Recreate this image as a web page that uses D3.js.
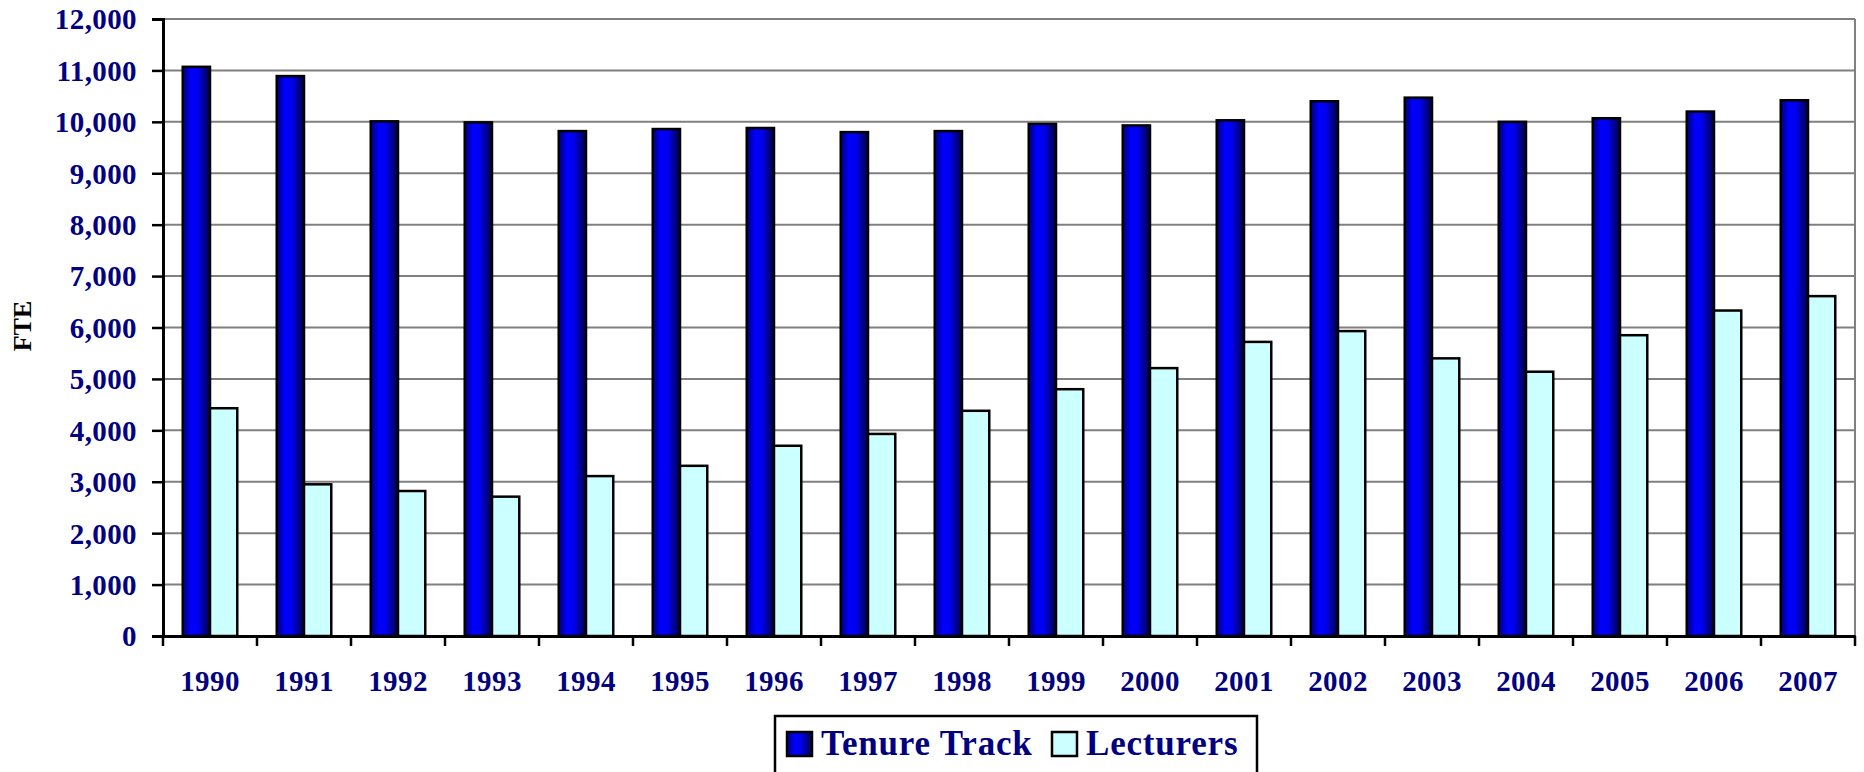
<!DOCTYPE html>
<html>
<head>
<meta charset="utf-8">
<script src="https://cdn.jsdelivr.net/npm/d3@7"></script>
<style>
  html, body { margin: 0; padding: 0; background: #fff; }
  text { font-family: "Liberation Serif", "Times New Roman", serif; font-weight: bold; }
</style>
</head>
<body>
<div id="chart"></div>
<script>
// Data
const years = ["1990", "1991", "1992", "1993", "1994", "1995", "1996", "1997", "1998",
  "1999", "2000", "2001", "2002", "2003", "2004", "2005", "2006", "2007"];
const tenureTrack = [11070, 10890, 10010, 9990, 9820, 9860, 9880, 9800, 9820,
  9960, 9930, 10030, 10400, 10470, 10000, 10070, 10200, 10420];
const lecturers = [4430, 2950, 2820, 2710, 3110, 3310, 3700, 3930, 4380,
  4800, 5210, 5720, 5930, 5400, 5140, 5850, 6330, 6610];
const seriesNames = ["Tenure Track", "Lecturers"];
const yTicks = [0, 1000, 2000, 3000, 4000, 5000, 6000, 7000, 8000, 9000, 10000, 11000, 12000];

const width = 1864;
const height = 772;
const margin = { top: 19, right: 9, bottom: 136, left: 163 };
const navy = "#000080";

const svg = d3.select("#chart")
  .append("svg")
  .attr("width", width)
  .attr("height", height)
  .attr("viewBox", [0, 0, width, height]);

// Gradient for the tenure track bars
const grad = svg.append("defs").append("linearGradient")
  .attr("id", "blueGrad")
  .attr("x1", "0%").attr("x2", "100%").attr("y1", "0%").attr("y2", "0%");
grad.append("stop").attr("offset", "0%").attr("stop-color", "#000070");
grad.append("stop").attr("offset", "30%").attr("stop-color", "#0000ff");
grad.append("stop").attr("offset", "55%").attr("stop-color", "#0000f0");
grad.append("stop").attr("offset", "100%").attr("stop-color", "#000040");

const x = d3.scaleBand()
  .domain(years)
  .range([margin.left, width - margin.right]);

const y = d3.scaleLinear()
  .domain([0, 12000])
  .range([height - margin.bottom, margin.top]);

const barW = x.bandwidth() * 0.29;
const groupOffset = x.bandwidth() * 0.21;

// Gridlines
svg.append("g")
  .selectAll("line")
  .data(yTicks.filter(d => d > 0))
  .join("line")
  .attr("x1", margin.left)
  .attr("x2", width - margin.right)
  .attr("y1", d => y(d))
  .attr("y2", d => y(d))
  .attr("stroke", "#808080")
  .attr("stroke-width", 2);

// Right border of plot area
svg.append("line")
  .attr("x1", width - margin.right).attr("x2", width - margin.right)
  .attr("y1", margin.top).attr("y2", y(0))
  .attr("stroke", "#808080")
  .attr("stroke-width", 2);

// Bars
const groups = svg.append("g")
  .selectAll("g")
  .data(years)
  .join("g")
  .attr("transform", d => `translate(${x(d) + groupOffset},0)`);

groups.append("rect")
  .attr("x", 0)
  .attr("width", barW)
  .attr("y", (d, i) => y(tenureTrack[i]))
  .attr("height", (d, i) => y(0) - y(tenureTrack[i]))
  .attr("fill", "url(#blueGrad)")
  .attr("stroke", "#000")
  .attr("stroke-width", 2.5);

groups.append("rect")
  .attr("x", barW)
  .attr("width", barW)
  .attr("y", (d, i) => y(lecturers[i]))
  .attr("height", (d, i) => y(0) - y(lecturers[i]))
  .attr("fill", "#ccffff")
  .attr("stroke", "#000")
  .attr("stroke-width", 2.5);

// Y axis
const yAxis = svg.append("g")
  .attr("transform", `translate(${margin.left},0)`)
  .call(d3.axisLeft(y).tickValues(yTicks).tickFormat(d3.format(",")).tickSize(11).tickPadding(15));
yAxis.select(".domain").attr("stroke", "#000").attr("stroke-width", 3);
yAxis.selectAll(".tick line").attr("stroke", "#000").attr("stroke-width", 2.5);
yAxis.selectAll(".tick text")
  .attr("fill", navy)
  .attr("font-size", 29)
  .attr("font-family", "Liberation Serif, serif")
  .attr("font-weight", "bold")
  .attr("letter-spacing", 0.4)
  .attr("dy", "0.34em");

// X axis
const xAxis = svg.append("g")
  .attr("transform", `translate(0,${y(0)})`)
  .call(d3.axisBottom(x).tickSize(0).tickPadding(34));
xAxis.select(".domain").attr("stroke", "#000").attr("stroke-width", 3);
xAxis.selectAll(".tick text")
  .attr("fill", navy)
  .attr("font-size", 29)
  .attr("font-family", "Liberation Serif, serif")
  .attr("font-weight", "bold")
  .attr("letter-spacing", 0.4);

// Category boundary ticks
svg.append("g")
  .selectAll("line")
  .data(years.concat(["end"]))
  .join("line")
  .attr("x1", (d, i) => i < years.length ? x(d) : x.range()[1])
  .attr("x2", (d, i) => i < years.length ? x(d) : x.range()[1])
  .attr("y1", y(0))
  .attr("y2", y(0) + 10)
  .attr("stroke", "#000")
  .attr("stroke-width", 2.5);

// Y axis title
svg.append("text")
  .attr("transform", `translate(31,${326}) rotate(-90)`)
  .attr("text-anchor", "middle")
  .attr("font-size", 26)
  .attr("fill", "#000")
  .text("FTE");

// Legend
const legend = svg.append("g");
legend.append("rect")
  .attr("x", 775).attr("y", 716)
  .attr("width", 482).attr("height", 80)
  .attr("fill", "#fff")
  .attr("stroke", "#000")
  .attr("stroke-width", 2.5);

const legendX = [787, 1052];
const legendFills = ["url(#blueGrad)", "#ccffff"];
seriesNames.forEach((name, i) => {
  legend.append("rect")
    .attr("x", legendX[i]).attr("y", 732)
    .attr("width", 25).attr("height", 24)
    .attr("fill", legendFills[i])
    .attr("stroke", "#000")
    .attr("stroke-width", 2.5);
  legend.append("text")
    .attr("x", legendX[i] + 34)
    .attr("y", 755)
    .attr("font-size", 35)
    .attr("letter-spacing", 0.8)
    .attr("fill", navy)
    .text(name);
});
</script>
</body>
</html>
